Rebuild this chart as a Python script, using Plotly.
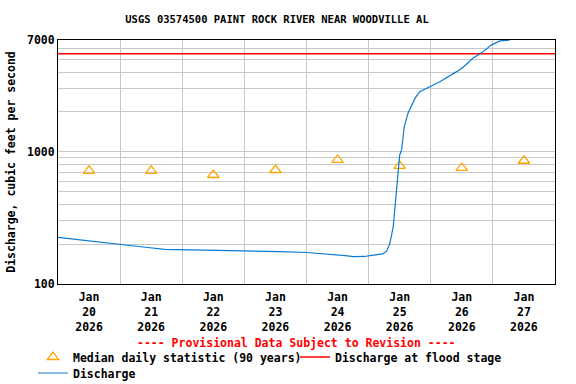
import plotly.graph_objects as go

# ---- data ----
median_days = ["2026-01-20 12:00", "2026-01-21 12:00", "2026-01-22 12:00", "2026-01-23 12:00",
               "2026-01-24 12:00", "2026-01-25 12:00", "2026-01-26 12:00", "2026-01-27 12:00"]
median_vals = [716, 716, 667, 728, 867, 781, 754, 855]

flood_stage = 5500
flood_x = ["2026-01-20 00:00", "2026-01-28 00:00"]

q_time = ["2026-01-20 00:00", "2026-01-20 08:30", "2026-01-20 16:15", "2026-01-21 00:00",
          "2026-01-21 05:45", "2026-01-21 11:30", "2026-01-21 17:15", "2026-01-22 00:00",
          "2026-01-23 00:00", "2026-01-23 13:45", "2026-01-24 00:00", "2026-01-24 09:00",
          "2026-01-24 15:00", "2026-01-24 18:00", "2026-01-24 22:30", "2026-01-25 00:30",
          "2026-01-25 05:30", "2026-01-25 07:00", "2026-01-25 08:15", "2026-01-25 09:30",
          "2026-01-25 10:30", "2026-01-25 11:15", "2026-01-25 12:00", "2026-01-25 12:45",
          "2026-01-25 13:45", "2026-01-25 15:15", "2026-01-25 16:45", "2026-01-25 18:00",
          "2026-01-25 19:45", "2026-01-25 23:45", "2026-01-26 03:30", "2026-01-26 10:00",
          "2026-01-26 12:30", "2026-01-26 16:15", "2026-01-26 19:45", "2026-01-26 23:30",
          "2026-01-27 02:45", "2026-01-27 06:30"]
q_vals = [225, 215, 208, 200, 192, 188, 183, 182,
          180, 176, 173, 168, 164, 161, 161.5, 164,
          169, 178, 204, 271, 432, 668, 946, 1032,
          1549, 1966, 2261, 2553, 2850, 3107, 3388, 4036,
          4357, 5096, 5620, 6430, 6890, 6990]

tick_vals = median_days
tick_text = ["Jan<br>%d<br>2026" % d for d in range(20, 28)]
y_ticks = [100, 1000, 7000]
y_minor = [200, 300, 400, 500, 600, 700, 800, 900, 2000, 3000, 4000, 5000, 6000]

FONT = "DejaVu Sans Mono"
fnt = dict(family=FONT, size=11.5, color="black", weight="bold")

fig = go.Figure()
fig.add_trace(go.Scatter(x=median_days, y=median_vals, mode="markers",
                         name="Median daily statistic (90 years)",
                         marker=dict(symbol="triangle-up-open", size=10, color="#ffa500",
                                     line=dict(width=1.3)),
                         legend="legend"))
fig.add_trace(go.Scatter(x=flood_x, y=[flood_stage, flood_stage], mode="lines",
                         name="Discharge at flood stage",
                         line=dict(color="#ff0000", width=1.5), legend="legend2"))
fig.add_trace(go.Scatter(x=q_time, y=q_vals, mode="lines", name="Discharge",
                         line=dict(color="#0a7bd0", width=1.2), legend="legend3"))

grid = "#c8c8c8"
leg_common = dict(xanchor="left", yanchor="middle", orientation="h", font=fnt,
                  bgcolor="rgba(0,0,0,0)", itemwidth=30, xref="container", yref="container")
fig.update_layout(
    width=576, height=384,
    margin=dict(l=58, r=21, t=40, b=100, autoexpand=False),
    paper_bgcolor="white", plot_bgcolor="white",
    font=fnt,
    title=dict(text="USGS 03574500 PAINT ROCK RIVER NEAR WOODVILLE AL",
               x=277 / 576, xanchor="center", y=1 - 19 / 384, yanchor="middle",
               xref="container", yref="container",
               font=dict(family=FONT, size=10.5, color="black", weight="bold")),
    xaxis=dict(type="date", range=["2026-01-20 00:00", "2026-01-28 00:00"],
               tickmode="array", tickvals=tick_vals, ticktext=tick_text,
               showgrid=False, ticks="", showline=True, linecolor="black", linewidth=1,
               mirror=True, tickfont=fnt, ticklabelstandoff=2,
               minor=dict(tick0="2026-01-20", dtick=86400000, showgrid=True,
                          gridcolor=grid, gridwidth=1, ticks="")),
    yaxis=dict(type="log", range=[2, 3.845098], tickmode="array", tickvals=y_ticks,
               ticktext=[str(v) for v in y_ticks], showgrid=True, gridcolor=grid,
               ticks="", showline=True, linecolor="black", linewidth=1, mirror=True,
               tickfont=fnt, zeroline=False,
               title=dict(text="Discharge, cubic feet per second", font=fnt, standoff=8),
               minor=dict(tickmode="array", tickvals=y_minor, showgrid=True,
                          gridcolor=grid, gridwidth=1, ticks="")),
    showlegend=True,
    legend=dict(x=33 / 576, y=1 - 357 / 384, **leg_common),
    legend2=dict(x=295 / 576, y=1 - 357 / 384, **leg_common),
    legend3=dict(x=33 / 576, y=1 - 373 / 384, **leg_common),
    annotations=[dict(text="---- Provisional Data Subject to Revision ----",
                      x=(296 - 58) / 497, y=(284 - 343) / 244, xref="paper", yref="paper",
                      xanchor="center", yanchor="middle", showarrow=False,
                      font=dict(family=FONT, size=11.5, color="#ff0000", weight="bold"))],
)

fig.write_html("out.html", config={"displayModeBar": False},
               post_script="document.body.style.margin='0px';document.body.style.overflow='hidden';")
